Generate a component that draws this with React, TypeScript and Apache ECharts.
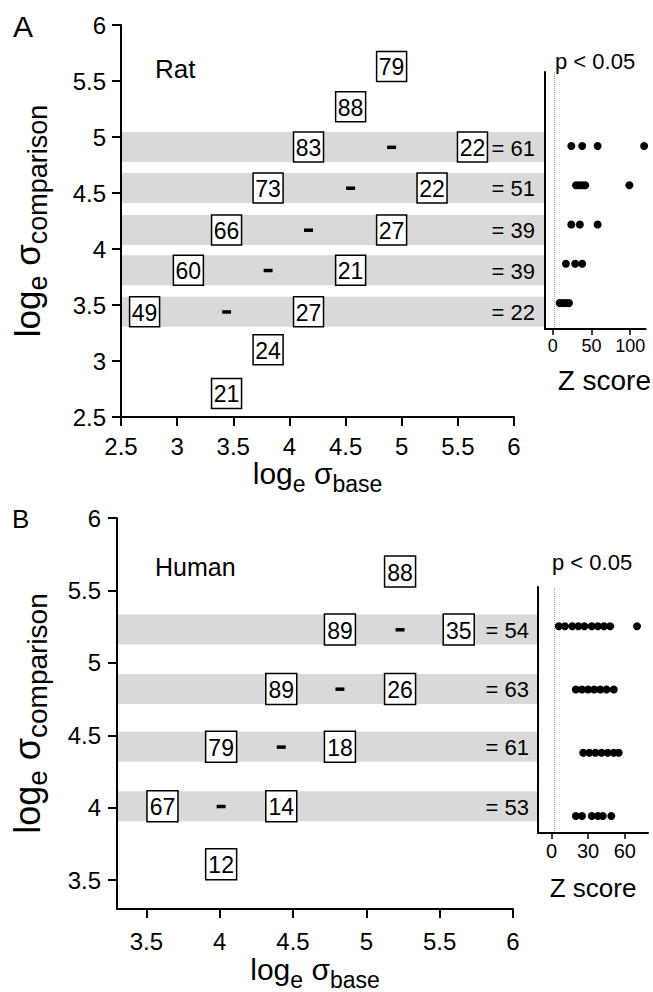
import React, { useEffect, useRef } from "react";
import * as echarts from "echarts";

const FONT = '"Liberation Sans", Arial, Helvetica, sans-serif';

// ---------------- Panel A : Rat ----------------
const ratAxisTicks = [2.5, 3, 3.5, 4, 4.5, 5, 5.5, 6];
// boxes: [log sigma base, log sigma comparison, percentage]
const ratBoxes = [
  [4.91, 5.63, 79],
  [4.545, 5.27, 88],
  [4.17, 4.91, 83],
  [5.63, 4.91, 22],
  [3.81, 4.545, 73],
  [5.27, 4.545, 22],
  [3.44, 4.17, 66],
  [4.91, 4.17, 27],
  [3.1, 3.81, 60],
  [4.545, 3.81, 21],
  [2.71, 3.44, 49],
  [4.17, 3.44, 27],
  [3.81, 3.1, 24],
  [3.44, 2.71, 21],
];
const ratRowLevels = [4.91, 4.545, 4.17, 3.81, 3.44];
const ratRowDiffs = [61, 51, 39, 39, 22];
const ratZTicks = [0, 50, 100];
const ratZRows = [
  [24, 38, 58, 118],
  [30, 34, 38, 42, 99],
  [24, 35, 58],
  [17, 29, 38],
  [9, 13, 17, 21],
];

// ---------------- Panel B : Human ----------------
const humanAxisTicks = [3.5, 4, 4.5, 5, 5.5, 6];
const humanBoxes = [
  [5.23, 5.63, 88],
  [4.82, 5.23, 89],
  [5.63, 5.23, 35],
  [4.42, 4.82, 89],
  [5.23, 4.82, 26],
  [4.01, 4.42, 79],
  [4.82, 4.42, 18],
  [3.61, 4.01, 67],
  [4.42, 4.01, 14],
  [4.01, 3.61, 12],
];
const humanRowLevels = [5.23, 4.82, 4.42, 4.01];
const humanRowDiffs = [54, 63, 61, 53];
const humanZTicks = [0, 30, 60];
const humanZRows = [
  [6, 11, 17, 22, 27, 33, 38, 43, 48, 70],
  [20, 25, 30, 35, 40, 45, 51],
  [26, 31, 36, 41, 46, 51, 55],
  [20, 25, 33, 38, 42, 49],
];

const P_THRESHOLD = 1.96;

function bandRender(rightPx: number, h: number) {
  return (params: any, api: any) => {
    const cs = params.coordSys;
    const p = api.coord([api.value(0), api.value(1)]);
    return {
      type: "rect",
      shape: { x: cs.x + 1, y: p[1] - h / 2, width: rightPx - cs.x - 2, height: h },
      style: { fill: "#d9d9d9" },
    };
  };
}

function boxRender(size: number, fontSize: number) {
  return (params: any, api: any) => {
    const p = api.coord([api.value(0), api.value(1)]);
    return {
      type: "group",
      children: [
        {
          type: "rect",
          shape: { x: p[0] - size / 2, y: p[1] - size / 2, width: size, height: size },
          style: { fill: "#fff", stroke: "#000", lineWidth: 1.5 },
        },
        {
          type: "text",
          x: p[0],
          y: p[1] + 1,
          style: {
            text: String(api.value(2)),
            fontSize,
            fontFamily: FONT,
            fill: "#000",
            align: "center",
            verticalAlign: "middle",
          },
        },
      ],
    };
  };
}

function dashRender(params: any, api: any) {
  const p = api.coord([api.value(0), api.value(1)]);
  return {
    type: "rect",
    shape: { x: p[0] - 4.5, y: p[1] - 1.5, width: 9, height: 3.5 },
    style: { fill: "#000" },
  };
}

function diffRender(rightPx: number, fontSize: number) {
  return (params: any, api: any) => {
    const p = api.coord([api.value(0), api.value(1)]);
    return {
      type: "text",
      x: rightPx,
      y: p[1] + 1,
      style: {
        text: "= " + api.value(2),
        fontSize,
        fontFamily: FONT,
        fill: "#000",
        align: "right",
        verticalAlign: "middle",
      },
    };
  };
}

function titleRich(main: number, sub: number, lh: number, subLh: number) {
  return {
    a: { fontSize: main, lineHeight: lh, fontFamily: FONT, color: "#000" },
    s: { fontSize: sub, lineHeight: subLh, fontFamily: FONT, color: "#000", verticalAlign: "bottom" },
  };
}

function mainXAxis(gridIndex: number, min: number, max: number, ticks: number[], nameGap: number, labelMargin: number) {
  return {
    type: "value",
    gridIndex,
    min,
    max,
    z: 10,
    name: "{a|log}{s|e}{a| σ}{s|base}",
    nameLocation: "middle",
    nameGap,
    nameTextStyle: { rich: titleRich(30, 23, 44, 22) },
    axisLine: { show: true, onZero: false, lineStyle: { color: "#000", width: 2 } },
    axisTick: { show: true, inside: false, length: 9, customValues: ticks, lineStyle: { color: "#000", width: 2 } },
    axisLabel: { customValues: ticks, fontSize: 24, fontFamily: FONT, color: "#000", margin: labelMargin },
    splitLine: { show: false },
  };
}

function mainYAxis(gridIndex: number, min: number, max: number, ticks: number[], nameGap: number, labelMargin: number, main: number, sub: number) {
  return {
    type: "value",
    gridIndex,
    min,
    max,
    z: 10,
    name: "{a|log}{s|e}{a| σ}{s|comparison}",
    nameLocation: "middle",
    nameGap,
    nameTextStyle: { rich: titleRich(main, sub, 48, 24) },
    axisLine: { show: true, onZero: false, lineStyle: { color: "#000", width: 2 } },
    axisTick: { show: true, inside: false, length: 9, customValues: ticks, lineStyle: { color: "#000", width: 2 } },
    axisLabel: { customValues: ticks, fontSize: 24, fontFamily: FONT, color: "#000", margin: labelMargin },
    splitLine: { show: false },
  };
}

function zXAxis(gridIndex: number, min: number, max: number, ticks: number[], fontSize: number, nameSize: number, nameGap: number, namePadLeft: number) {
  return {
    type: "value",
    gridIndex,
    min,
    max,
    z: 10,
    name: "Z score",
    nameLocation: "middle",
    nameGap,
    nameTextStyle: { fontSize: nameSize, fontFamily: FONT, color: "#000", padding: [0, 0, 0, namePadLeft] },
    axisLine: { show: true, onZero: false, lineStyle: { color: "#000", width: 2 } },
    axisTick: { show: true, inside: false, length: 6, customValues: ticks, lineStyle: { color: "#000", width: 1.5 } },
    axisLabel: { customValues: ticks, fontSize, fontFamily: FONT, color: "#000", margin: 8 },
    splitLine: { show: false },
  };
}

function zYAxis(gridIndex: number, min: number, max: number) {
  return {
    type: "value",
    gridIndex,
    min,
    max,
    z: 10,
    axisLine: { show: true, onZero: false, lineStyle: { color: "#000", width: 2 } },
    axisTick: { show: false },
    axisLabel: { show: false },
    splitLine: { show: false },
  };
}

function zData(rows: number[][]) {
  const out: number[][] = [];
  rows.forEach((row, i) => {
    const level = rows.length - i;
    row.forEach((z) => out.push([z, level]));
  });
  return out;
}

function buildOption() {
  // layout (pixels)
  const A = { left: 121, top: 25, width: 393, height: 392 };
  const AZ = { left: 545, top: 72, width: 102, height: 257 };
  const B = { left: 117, top: 518, width: 396, height: 395 };
  const BZ = { left: 538, top: 587, width: 110, height: 246 };

  const ratMin = 2.5, ratMax = 6;
  const humMin = 3.3, humMax = 6;

  return {
    animation: false,
    backgroundColor: "#fff",
    textStyle: { fontFamily: FONT },
    grid: [
      { ...A, containLabel: false },
      { ...AZ, containLabel: false },
      { ...B, containLabel: false },
      { ...BZ, containLabel: false },
    ],
    xAxis: [
      mainXAxis(0, ratMin, ratMax, ratAxisTicks, 33, 17),
      zXAxis(1, -10, 120, ratZTicks, 18, 28, 37, 18),
      mainXAxis(2, humMin, humMax, humanAxisTicks, 35, 20),
      zXAxis(3, -11, 79, humanZTicks, 20, 26, 42, 0),
    ],
    yAxis: [
      mainYAxis(0, ratMin, ratMax, ratAxisTicks, 70, 15, 35, 27),
      zYAxis(1, 0.34, 6.885),
      mainYAxis(2, humMin, humMax, humanAxisTicks, 66, 16, 36, 28),
      zYAxis(3, 0.73, 4.62),
    ],
    graphic: [
      { type: "text", left: 13, top: 11, style: { text: "A", fontSize: 30, fontFamily: FONT, fill: "#000" } },
      { type: "text", left: 155, top: 56, style: { text: "Rat", fontSize: 26, fontFamily: FONT, fill: "#000" } },
      { type: "text", left: 555, top: 50, style: { text: "p < 0.05", fontSize: 22, fontFamily: FONT, fill: "#000" } },
      { type: "text", left: 12, top: 506, style: { text: "B", fontSize: 26, fontFamily: FONT, fill: "#000" } },
      { type: "text", left: 155, top: 554, style: { text: "Human", fontSize: 25, fontFamily: FONT, fill: "#000" } },
      { type: "text", left: 552, top: 551, style: { text: "p < 0.05", fontSize: 22, fontFamily: FONT, fill: "#000" } },
    ],
    series: [
      // ---- Panel A
      {
        type: "custom",
        xAxisIndex: 0,
        yAxisIndex: 0,
        z: 1,
        renderItem: bandRender(AZ.left, 30),
        data: ratRowLevels.map((y) => [ratMin, y]),
      },
      {
        type: "custom",
        xAxisIndex: 0,
        yAxisIndex: 0,
        z: 3,
        renderItem: dashRender,
        data: ratRowLevels.map((y) => [y, y]),
      },
      {
        type: "custom",
        xAxisIndex: 0,
        yAxisIndex: 0,
        z: 4,
        renderItem: boxRender(30, 23),
        data: ratBoxes,
      },
      {
        type: "custom",
        xAxisIndex: 0,
        yAxisIndex: 0,
        z: 4,
        renderItem: diffRender(AZ.left - 10, 22),
        data: ratRowLevels.map((y, i) => [ratMin, y, ratRowDiffs[i]]),
      },
      {
        type: "scatter",
        xAxisIndex: 1,
        yAxisIndex: 1,
        symbol: "circle",
        symbolSize: 8,
        itemStyle: { color: "#000", opacity: 1 },
        data: zData(ratZRows),
        markLine: {
          silent: true,
          symbol: "none",
          label: { show: false },
          lineStyle: { color: "#999", width: 1, type: "dotted" },
          data: [{ xAxis: P_THRESHOLD }],
        },
      },
      // ---- Panel B
      {
        type: "custom",
        xAxisIndex: 2,
        yAxisIndex: 2,
        z: 1,
        renderItem: bandRender(BZ.left, 30),
        data: humanRowLevels.map((y) => [humMin, y]),
      },
      {
        type: "custom",
        xAxisIndex: 2,
        yAxisIndex: 2,
        z: 3,
        renderItem: dashRender,
        data: humanRowLevels.map((y) => [y, y]),
      },
      {
        type: "custom",
        xAxisIndex: 2,
        yAxisIndex: 2,
        z: 4,
        renderItem: boxRender(31, 23),
        data: humanBoxes,
      },
      {
        type: "custom",
        xAxisIndex: 2,
        yAxisIndex: 2,
        z: 4,
        renderItem: diffRender(BZ.left - 9, 22),
        data: humanRowLevels.map((y, i) => [humMin, y, humanRowDiffs[i]]),
      },
      {
        type: "scatter",
        xAxisIndex: 3,
        yAxisIndex: 3,
        symbol: "circle",
        symbolSize: 8,
        itemStyle: { color: "#000", opacity: 1 },
        data: zData(humanZRows),
        markLine: {
          silent: true,
          symbol: "none",
          label: { show: false },
          lineStyle: { color: "#999", width: 1, type: "dotted" },
          data: [{ xAxis: P_THRESHOLD }],
        },
      },
    ],
  };
}

export default function App() {
  const ref = useRef<HTMLDivElement | null>(null);
  useEffect(() => {
    document.body.style.margin = "0";
    if (!ref.current) return;
    const chart = echarts.init(ref.current, null, { renderer: "svg" });
    chart.setOption(buildOption() as any);
    return () => chart.dispose();
  }, []);
  return <div ref={ref} style={{ position: "absolute", left: 0, top: 0, width: 653, height: 992 }} />;
}
